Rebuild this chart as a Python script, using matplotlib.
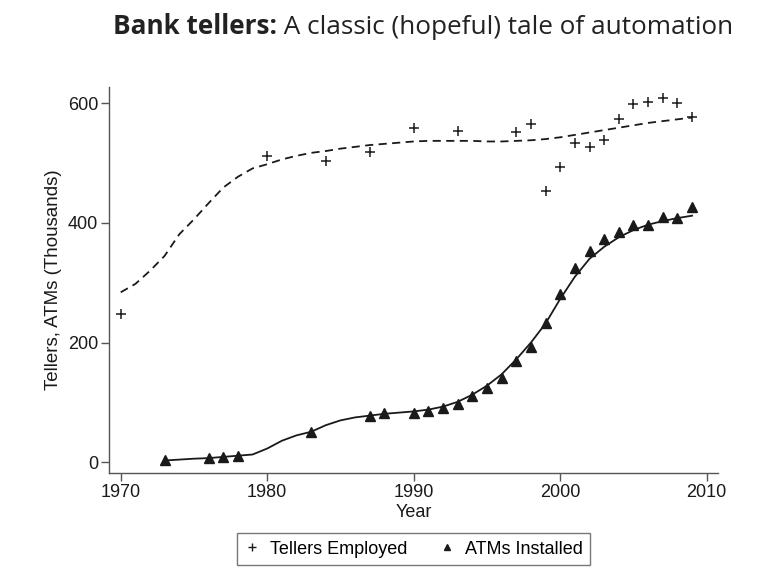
import matplotlib
matplotlib.use("Agg")
import matplotlib.pyplot as plt
from matplotlib.lines import Line2D

# ---- data (thousands) ----
teller_years = [1970, 1980, 1984, 1987, 1990, 1993, 1997, 1998, 1999, 2000,
                2001, 2002, 2003, 2004, 2005, 2006, 2007, 2008, 2009]
teller_vals = [247, 511, 504, 518, 559, 554, 551, 565, 453, 493,
               533, 527, 539, 574, 599, 602, 608, 600, 577]

teller_fit_years = list(range(1970, 2010))
teller_fit_vals = [284, 298, 320, 345, 381, 406, 433, 459, 477, 491,
                   498, 506, 512, 517, 520, 524, 527, 530, 532, 534,
                   536, 537, 537, 537, 537, 536, 536, 537, 538, 540,
                   543, 547, 551, 555, 559, 563, 567, 570, 573, 576]

atm_years = [1973, 1976, 1977, 1978, 1983, 1987, 1988, 1990, 1991, 1992,
             1993, 1994, 1995, 1996, 1997, 1998, 1999, 2000, 2001, 2002,
             2003, 2004, 2005, 2006, 2007, 2008, 2009]
atm_vals = [4, 7, 9, 11, 50, 78, 83, 82, 86, 90,
            97, 111, 124, 140, 170, 192, 233, 281, 325, 353,
            373, 384, 397, 397, 410, 408, 426]

atm_fit_years = list(range(1973, 2010))
atm_fit_vals = [3, 4.5, 6, 7, 9, 11, 13, 23, 36, 45,
                51, 62, 70, 75, 78, 81, 83, 85, 88, 93,
                101, 113, 128, 147, 172, 200, 232, 273, 310, 340,
                360, 376, 388, 397, 403, 408, 412]

x_ticks = [1970, 1980, 1990, 2000, 2010]
y_ticks = [0, 200, 400, 600]

title_bold = "Bank tellers:"
title_rest = " A classic (hopeful) tale of automation"
x_label = "Year"
y_label = "Tellers, ATMs (Thousands)"
legend_labels = ["Tellers Employed", "ATMs Installed"]

# ---- figure ----
plt.rcParams['font.family'] = ['Liberation Sans', 'DejaVu Sans']
W, H = 782, 581
fig = plt.figure(figsize=(W / 100, H / 100), dpi=100)
ax = fig.add_axes([109.3 / W, 1 - 473 / H, (718 - 109.3) / W, (473 - 87) / H])

ink = '#1a1a1a'
fs = 13
ax.plot(teller_fit_years, teller_fit_vals, color=ink, lw=1.3, ls=(0, (4.5, 3)))
ax.plot(atm_fit_years, atm_fit_vals, color=ink, lw=1.3)
ax.plot(teller_years, teller_vals, ls='none', marker='+', ms=7, mew=1.1, color=ink)
ax.plot(atm_years, atm_vals, ls='none', marker='^', ms=6.5, color=ink, mec=ink)

ax.set_xlim(1969.22, 2010.77)
ax.set_ylim(-17.9, 627)
ax.set_xticks(x_ticks)
ax.set_yticks(y_ticks)
for s in ['top', 'right']:
    ax.spines[s].set_visible(False)
for s in ['left', 'bottom']:
    ax.spines[s].set_color('#555555')
    ax.spines[s].set_linewidth(1.0)
ax.tick_params(direction='out', length=6, width=1.0, color='#555555',
               labelsize=fs, labelcolor=ink, pad=2)
ax.set_xlabel(x_label, fontsize=fs, color=ink, labelpad=2)
ax.set_ylabel(y_label, fontsize=13.5, color=ink, labelpad=4)

handles = [Line2D([], [], ls='none', marker='+', ms=6, mew=1.0, color=ink),
           Line2D([], [], ls='none', marker='^', ms=5, color=ink)]
leg = fig.legend(handles, legend_labels, loc='center', ncol=2,
                 bbox_to_anchor=(413.8 / W, 1 - 549.2 / H), fontsize=fs,
                 frameon=True, fancybox=False, edgecolor='#555555',
                 handlelength=0.8, handletextpad=0.6, columnspacing=1.8,
                 borderpad=0.4)
leg.get_frame().set_linewidth(1.0)

# ---- title with mixed weights ----
tfam = ['Open Sans', 'DejaVu Sans']
tfs = 18.8
t1 = fig.text(113 / W, 1 - 34.3 / H, title_bold, fontsize=tfs, fontweight='bold',
              family=tfam, color='#222222', va='baseline', ha='left')
fig.canvas.draw()
bb = t1.get_window_extent()
fig.text(bb.x1 / W, 1 - 34.3 / H, title_rest, fontsize=tfs,
         family=tfam, color='#222222', va='baseline', ha='left')

fig.savefig('out.png', dpi=100)
